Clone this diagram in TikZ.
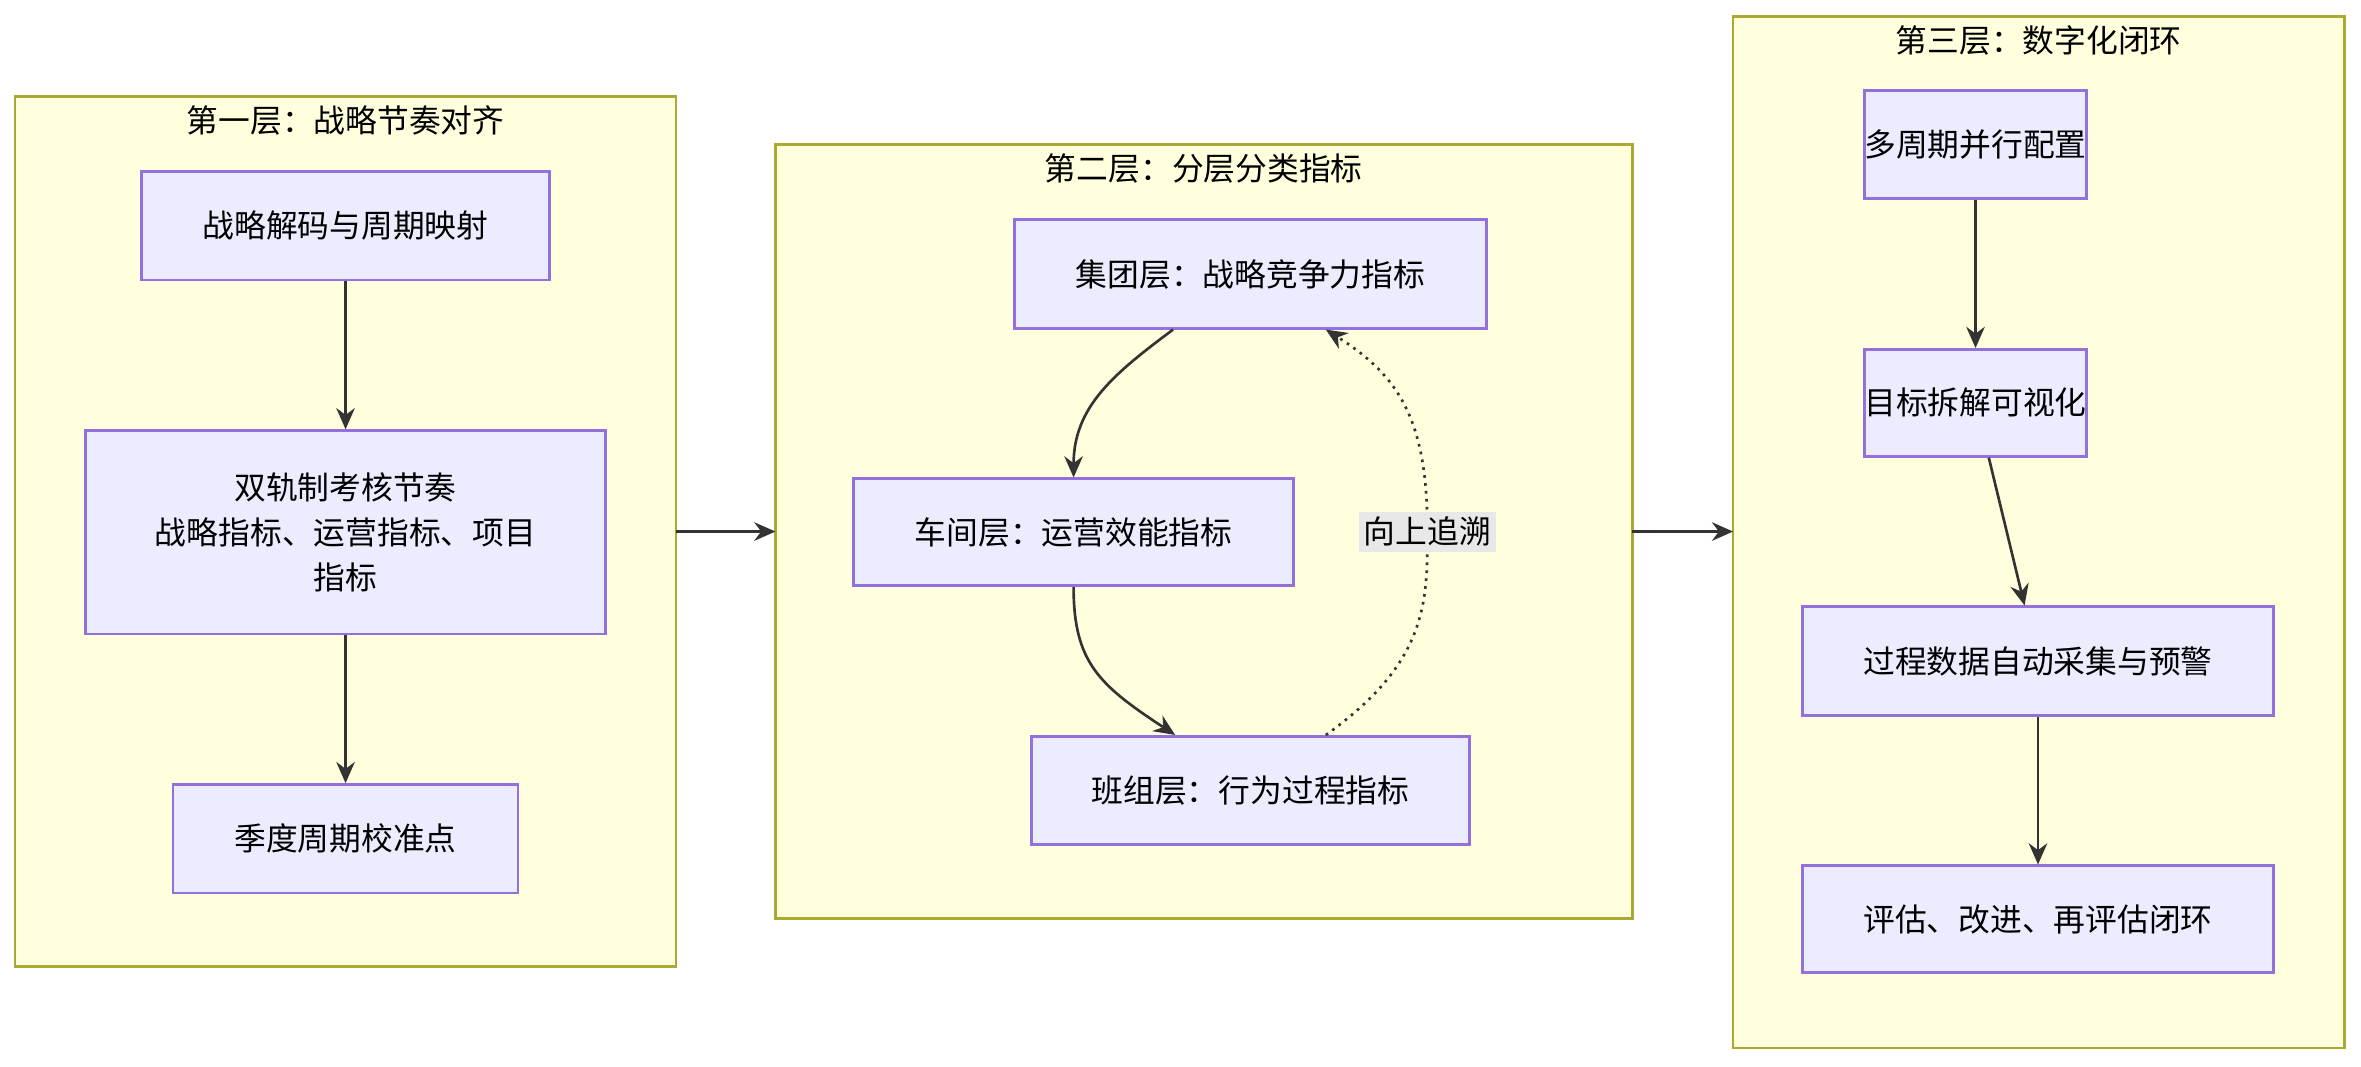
\documentclass[tikz,border=0pt]{standalone}
\usepackage{fontspec}
\setmainfont{Noto Sans CJK SC}
\usetikzlibrary{arrows.meta}
\definecolor{boxfill}{HTML}{ECECFF}
\definecolor{boxline}{HTML}{9370DB}
\definecolor{grpfill}{HTML}{FFFFDE}
\definecolor{grpline}{HTML}{AAAA33}
\definecolor{edgecol}{HTML}{333333}
\tikzset{stepbox/.style={draw=boxline,fill=boxfill,line width=0.5pt,inner sep=0,align=center,font=\fontsize{6}{8.5}\selectfont},
 layer/.style={draw=grpline,fill=grpfill,line width=0.5pt},
 layertitle/.style={font=\fontsize{6}{8}\selectfont,inner sep=0},
 flow/.style={draw=edgecol,line width=0.5pt,-{Stealth[length=4pt,width=3.5pt]}}}

\begin{document}
\begin{tikzpicture}[x=0.01cm,y=-0.01cm]
 \useasboundingbox (0,0) rectangle (1568,708);
 % layers
 \draw[layer] (10,64) rectangle (449,642);
 \draw[layer] (515,96) rectangle (1084,610);
 \draw[layer] (1151,11) rectangle (1557,696);
 \node[layertitle] (t1) at (229.5,80) {第一层：战略节奏对齐};
 \node[layertitle] (t2) at (799.5,112) {第二层：分层分类指标};
 \node[layertitle] (t3) at (1354,27) {第三层：数字化闭环};
 \coordinate (l1e) at (449,353);
 \coordinate (l2w) at (515,353);
 \coordinate (l2e) at (1084,353);
 \coordinate (l3w) at (1151,353);
 % first layer
 \node[stepbox,minimum width=2.71cm,minimum height=0.72cm] (decode) at (229.5,150) {战略解码与周期映射};
 \node[stepbox,minimum width=3.45cm,minimum height=1.35cm] (dual) at (229.5,353.5) {双轨制考核节奏\\战略指标、运营指标、项目\\指标};
 \node[stepbox,minimum width=2.29cm,minimum height=0.72cm] (quarter) at (229.5,557) {季度周期校准点};
 % second layer
 \node[stepbox,minimum width=3.13cm,minimum height=0.72cm] (group) at (830.5,182) {集团层：战略竞争力指标};
 \node[stepbox,minimum width=2.92cm,minimum height=0.71cm] (shop) at (713,353.5) {车间层：运营效能指标};
 \node[stepbox,minimum width=2.91cm,minimum height=0.72cm] (team) at (830.5,525) {班组层：行为过程指标};
 % third layer
 \node[stepbox,minimum width=1.44cm,minimum height=0.72cm] (cycles) at (1312,96) {多周期并行配置};
 \node[stepbox,minimum width=1.44cm,minimum height=0.71cm] (visual) at (1312,267.5) {目标拆解可视化};
 \node[stepbox,minimum width=3.13cm,minimum height=0.72cm] (collect) at (1353.5,439) {过程数据自动采集与预警};
 \node[stepbox,minimum width=3.13cm,minimum height=0.71cm] (loop) at (1353.5,610.5) {评估、改进、再评估闭环};
 % connectors
 \draw[flow] (decode) -- (dual);
 \draw[flow] (dual) -- (quarter);
 \draw[flow] (l1e) -- (l2w);
 \draw[flow] (l2e) -- (l3w);
 \draw[flow] (cycles) -- (visual);
 \draw[flow] (visual) -- (collect);
 \draw[flow] (collect) -- (loop);
 \draw[flow] (group.south west) ++(106,0) .. controls (740,248) and (713,270) .. (shop.north);
 \draw[flow] (shop.south) .. controls (713,440) and (730,455) .. ([xshift=-0.5cm]team.north);
 \draw[flow,densely dotted] ([xshift=0.5cm]team.north) .. controls (948,440) and (948,400) .. (948,353)
   node[fill=black!9,inner sep=1pt,font=\fontsize{6}{8}\selectfont] (trace) {向上追溯}
   .. controls (948,280) and (930,250) .. ([xshift=0.5cm]group.south);
\end{tikzpicture}
\end{document}
